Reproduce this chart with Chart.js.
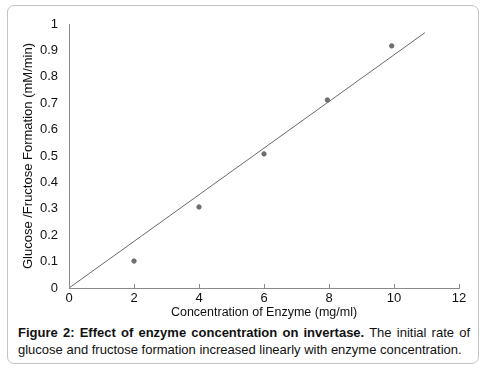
<!DOCTYPE html>
<html>
<head>
<meta charset="utf-8">
<script src="https://cdn.jsdelivr.net/npm/chart.js@4.4.1/dist/chart.umd.min.js"></script>
<style>
  html, body { margin: 0; padding: 0; background: #fff; }
  body { width: 486px; height: 369px; position: relative; overflow: hidden; }
  #frame {
    position: absolute; left: 7px; top: 5px; width: 470px; height: 357px;
    border: 1px solid #c4c4c4; border-radius: 7px;
  }
  #wrap { position: absolute; left: 0; top: 0; width: 486px; height: 320px; }
  .cap {
    position: absolute; left: 18px; width: 452px;
    font-family: "Liberation Sans", Arial, sans-serif; font-size: 13px; color: #111;
    white-space: nowrap; line-height: 16px;
  }
  #cap1 { top: 325px; text-align: justify; text-align-last: justify; }
  #cap2 { top: 342px; }
</style>
</head>
<body>
<div id="frame"></div>
<div id="wrap"><canvas id="chart" width="486" height="320"></canvas></div>
<div class="cap" id="cap1"><b>Figure 2: Effect of enzyme concentration on invertase.</b> The initial rate of</div>
<div class="cap" id="cap2">glucose and fructose formation increased linearly with enzyme concentration.</div>
<script>
// 数据：酶浓度与葡萄糖/果糖生成速率
const enzymeConc = [2, 4, 6, 7.95, 9.93];
const formationRate = [0.102, 0.307, 0.508, 0.712, 0.917];
// 趋势线两端点
const trendX = [0, 10.95];
const trendY = [0, 0.967];

const xTicks = [0, 2, 4, 6, 8, 10, 12];

const tickFont = { family: '"Liberation Sans", Arial, sans-serif', size: 13 };

// 在x轴上方画短刻度线
const innerTicks = {
  id: 'innerTicks',
  afterDraw(chart) {
    const ctx = chart.ctx;
    const xs = chart.scales.x;
    const yBottom = chart.chartArea.bottom;
    ctx.save();
    ctx.strokeStyle = '#8a8a8a';
    ctx.lineWidth = 1;
    xTicks.forEach(v => {
      const px = Math.round(xs.getPixelForValue(v)) + 0.5;
      ctx.beginPath();
      ctx.moveTo(px, yBottom);
      ctx.lineTo(px, yBottom - 4);
      ctx.stroke();
    });
    ctx.restore();
  }
};

new Chart(document.getElementById('chart'), {
  type: 'scatter',
  data: {
    datasets: [
      {
        label: 'Rate',
        data: enzymeConc.map((x, i) => ({ x: x, y: formationRate[i] })),
        backgroundColor: '#6e6e6e',
        borderColor: '#6e6e6e',
        pointRadius: 2.2,
        pointHoverRadius: 2.2
      },
      {
        label: 'Linear',
        data: trendX.map((x, i) => ({ x: x, y: trendY[i] })),
        showLine: true,
        borderColor: '#6a6a6a',
        borderWidth: 1,
        pointRadius: 0,
        fill: false
      }
    ]
  },
  options: {
    responsive: false,
    animation: false,
    devicePixelRatio: 1,
    layout: { padding: { top: 24, right: 27, bottom: 0, left: 0 } },
    plugins: {
      legend: { display: false },
      tooltip: { enabled: false }
    },
    scales: {
      x: {
        type: 'linear',
        min: 0,
        max: 12,
        afterBuildTicks: scale => { scale.ticks = xTicks.map(v => ({ value: v })); },
        grid: { display: false, tickLength: 0 },
        border: { display: true, color: '#8a8a8a', width: 1 },
        ticks: { font: tickFont, color: '#111', padding: 3, maxRotation: 0 },
        title: {
          display: true,
          text: 'Concentration of Enzyme (mg/ml)',
          font: { family: '"Liberation Sans", Arial, sans-serif', size: 12.5 },
          color: '#111',
          padding: { top: 0, bottom: 0 }
        },
        afterFit: scale => { scale.height = 32; }
      },
      y: {
        type: 'linear',
        min: 0,
        max: 1,
        grid: { display: false, tickLength: 0 },
        border: { display: true, color: '#8a8a8a', width: 1 },
        ticks: {
          stepSize: 0.1,
          font: tickFont,
          color: '#111',
          padding: 11,
          callback: v => Math.round(v * 10) / 10
        },
        title: {
          display: true,
          text: 'Glucose /Fructose Formation (mM/min)',
          font: { family: '"Liberation Sans", Arial, sans-serif', size: 13 },
          color: '#111',
          padding: { top: 21, bottom: 0 }
        },
        afterFit: scale => { scale.width = 69; }
      }
    }
  },
  plugins: [innerTicks]
});
</script>
</body>
</html>
